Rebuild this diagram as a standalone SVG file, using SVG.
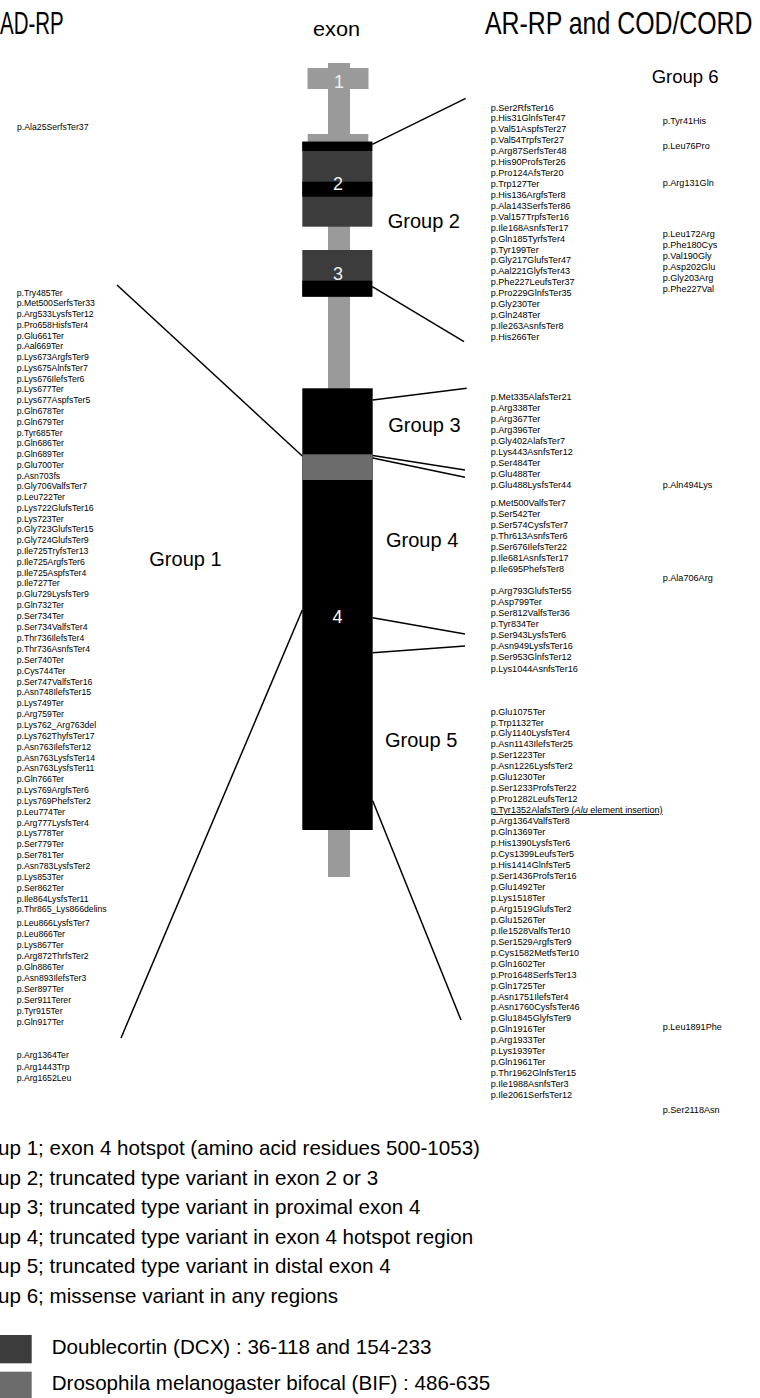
<svg xmlns="http://www.w3.org/2000/svg" width="760" height="1398" viewBox="0 0 760 1398">
<style>
text{font-family:"Liberation Sans",Arial,Helvetica,sans-serif;fill:#000}
.v{font-size:8.7px}
#ar-rp-group2 text,#ar-rp-group3 text,#ar-rp-group4 text,#ar-rp-group5 text,#group6-missense text{font-size:9.1px}
.g{font-size:20px}
.h{font-size:25px}
.n{font-size:18px;fill:#eeeeee}
.lg{font-size:20.6px}
.c{stroke:#000;stroke-width:1.5;fill:none}
.stem{fill:#9a9a9a}
.dcx{fill:#3c3c3c}
.blk{fill:#000}
.bif{fill:#6c6c6c}
</style>
<rect width="760" height="1398" fill="#fff"/>
<g id="headers">
<text class="h" transform="translate(0 33.5) scale(0.82 1.28)" x="0" y="0">AD-RP</text>
<text x="313" y="36" style="font-size:20px" textLength="47" lengthAdjust="spacingAndGlyphs">exon</text>
<text class="h" transform="translate(485 33.5) scale(0.995 1.28)" x="0" y="0">AR-RP and COD/CORD</text>
</g>
<g id="gene">
<rect class="stem" x="328" y="63" width="22" height="814"/>
<g id="exon1">
<rect class="stem" x="307.5" y="68" width="61" height="21"/>
<text class="n" x="339" y="87.5" text-anchor="middle">1</text>
</g>
<g id="exon2">
<rect class="stem" x="307.7" y="134" width="60.6" height="8"/>
<rect class="dcx" x="302.3" y="141.7" width="70" height="85"/>
<rect class="blk" x="302.3" y="141.7" width="70" height="9.3"/>
<rect class="blk" x="302.3" y="181.7" width="70" height="15"/>
<text class="n" x="338" y="189.5" text-anchor="middle">2</text>
</g>
<g id="exon3">
<rect class="dcx" x="302.3" y="250" width="70" height="46.7"/>
<rect class="blk" x="302.3" y="280.7" width="70" height="16"/>
<text class="n" x="338" y="279.5" text-anchor="middle">3</text>
</g>
<g id="exon4">
<rect class="blk" x="302.3" y="388.3" width="70.4" height="441.7"/>
<rect class="bif" x="302.3" y="454.3" width="70.4" height="25.7"/>
<text class="n" x="337.5" y="623" text-anchor="middle" style="fill:#fff">4</text>
</g>
</g>
<g id="connectors">
<line class="c" x1="372.3" y1="144.3" x2="465.7" y2="98.3"/>
<line class="c" x1="372.3" y1="286.7" x2="464" y2="341.7"/>
<line class="c" x1="372.7" y1="400" x2="466.7" y2="388.3"/>
<line class="c" x1="372.7" y1="455.5" x2="465" y2="470"/>
<line class="c" x1="372.7" y1="458" x2="465" y2="477.3"/>
<line class="c" x1="372.7" y1="617.7" x2="465" y2="634"/>
<line class="c" x1="372.7" y1="652.7" x2="465" y2="646"/>
<line class="c" x1="372.7" y1="800.7" x2="461" y2="1020"/>
<line class="c" x1="117" y1="285" x2="302.3" y2="456"/>
<line class="c" x1="302.3" y1="610" x2="121" y2="1038"/>
</g>
<g id="group-labels">
<text class="g" x="149.3" y="566">Group 1</text>
<text class="g" x="387.7" y="227.7">Group 2</text>
<text class="g" x="388.3" y="431.7">Group 3</text>
<text class="g" x="386" y="546.7">Group 4</text>
<text class="g" x="385" y="746.7">Group 5</text>
<text class="g" x="651.7" y="83.3" style="font-size:18.5px">Group 6</text>
</g>
<g id="ad-rp-variants">
<text class="v" x="17" y="130">p.Ala25SerfsTer37</text>
<text class="v" x="16.7" y="295.5">p.Try485Ter</text>
<text class="v" x="16.7" y="306.3">p.Met500SerfsTer33</text>
<text class="v" x="16.7" y="317.0">p.Arg533LysfsTer12</text>
<text class="v" x="16.7" y="327.8">p.Pro658HisfsTer4</text>
<text class="v" x="16.7" y="338.6">p.Glu661Ter</text>
<text class="v" x="16.7" y="349.4">p.Aal669Ter</text>
<text class="v" x="16.7" y="360.1">p.Lys673ArgfsTer9</text>
<text class="v" x="16.7" y="370.9">p.Lys675AlnfsTer7</text>
<text class="v" x="16.7" y="381.7">p.Lys676IlefsTer6</text>
<text class="v" x="16.7" y="392.4">p.Lys677Ter</text>
<text class="v" x="16.7" y="403.2">p.Lys677AspfsTer5</text>
<text class="v" x="16.7" y="414.0">p.Gln678Ter</text>
<text class="v" x="16.7" y="424.7">p.Gln679Ter</text>
<text class="v" x="16.7" y="435.5">p.Tyr685Ter</text>
<text class="v" x="16.7" y="446.3">p.Gln686Ter</text>
<text class="v" x="16.7" y="457.1">p.Gln689Ter</text>
<text class="v" x="16.7" y="467.8">p.Glu700Ter</text>
<text class="v" x="16.7" y="478.6">p.Asn703fs</text>
<text class="v" x="16.7" y="489.4">p.Gly706ValfsTer7</text>
<text class="v" x="16.7" y="500.1">p.Leu722Ter</text>
<text class="v" x="16.7" y="510.9">p.Lys722GlufsTer16</text>
<text class="v" x="16.7" y="521.7">p.Lys723Ter</text>
<text class="v" x="16.7" y="532.4">p.Gly723GlufsTer15</text>
<text class="v" x="16.7" y="543.2">p.Gly724GlufsTer9</text>
<text class="v" x="16.7" y="554.0">p.Ile725TryfsTer13</text>
<text class="v" x="16.7" y="564.8">p.Ile725ArgfsTer6</text>
<text class="v" x="16.7" y="575.5">p.Ile725AspfsTer4</text>
<text class="v" x="16.7" y="586.3">p.Ile727Ter</text>
<text class="v" x="16.7" y="597.1">p.Glu729LysfsTer9</text>
<text class="v" x="16.7" y="607.8">p.Gln732Ter</text>
<text class="v" x="16.7" y="619.4">p.Ser734Ter</text>
<text class="v" x="16.7" y="630.2">p.Ser734ValfsTer4</text>
<text class="v" x="16.7" y="641.1">p.Thr736IlefsTer4</text>
<text class="v" x="16.7" y="651.9">p.Thr736AsnfsTer4</text>
<text class="v" x="16.7" y="662.8">p.Ser740Ter</text>
<text class="v" x="16.7" y="673.6">p.Cys744Ter</text>
<text class="v" x="16.7" y="684.5">p.Ser747ValfsTer16</text>
<text class="v" x="16.7" y="695.3">p.Asn748IlefsTer15</text>
<text class="v" x="16.7" y="706.2">p.Lys749Ter</text>
<text class="v" x="16.7" y="717.0">p.Arg759Ter</text>
<text class="v" x="16.7" y="727.9">p.Lys762_Arg763del</text>
<text class="v" x="16.7" y="738.7">p.Lys762ThyfsTer17</text>
<text class="v" x="16.7" y="749.6">p.Asn763IlefsTer12</text>
<text class="v" x="16.7" y="760.5">p.Asn763LysfsTer14</text>
<text class="v" x="16.7" y="771.3">p.Asn763LysfsTer11</text>
<text class="v" x="16.7" y="782.2">p.Gln766Ter</text>
<text class="v" x="16.7" y="793.0">p.Lys769ArgfsTer6</text>
<text class="v" x="16.7" y="803.9">p.Lys769PhefsTer2</text>
<text class="v" x="16.7" y="814.7">p.Leu774Ter</text>
<text class="v" x="16.7" y="825.6">p.Arg777LysfsTer4</text>
<text class="v" x="16.7" y="836.4">p.Lys778Ter</text>
<text class="v" x="16.7" y="847.3">p.Ser779Ter</text>
<text class="v" x="16.7" y="858.1">p.Ser781Ter</text>
<text class="v" x="16.7" y="869.0">p.Asn783LysfsTer2</text>
<text class="v" x="16.7" y="879.9">p.Lys853Ter</text>
<text class="v" x="16.7" y="890.7">p.Ser862Ter</text>
<text class="v" x="16.7" y="901.6">p.Ile864LysfsTer11</text>
<text class="v" x="16.7" y="912.4">p.Thr865_Lys866delins</text>
<text class="v" x="16.7" y="925.5">p.Leu866LysfsTer7</text>
<text class="v" x="16.7" y="936.5">p.Leu866Ter</text>
<text class="v" x="16.7" y="947.5">p.Lys867Ter</text>
<text class="v" x="16.7" y="958.5">p.Arg872ThrfsTer2</text>
<text class="v" x="16.7" y="969.5">p.Gln886Ter</text>
<text class="v" x="16.7" y="980.5">p.Asn893IlefsTer3</text>
<text class="v" x="16.7" y="991.5">p.Ser897Ter</text>
<text class="v" x="16.7" y="1002.5">p.Ser911Terer</text>
<text class="v" x="16.7" y="1013.5">p.Tyr915Ter</text>
<text class="v" x="16.7" y="1024.5">p.Gln917Ter</text>
<text class="v" x="16.7" y="1058.2">p.Arg1364Ter</text>
<text class="v" x="16.7" y="1069.5">p.Arg1443Trp</text>
<text class="v" x="16.7" y="1080.8">p.Arg1652Leu</text>
</g>
<g id="ar-rp-group2">
<text class="v" x="490.7" y="110.5">p.Ser2RfsTer16</text>
<text class="v" x="490.7" y="121.4">p.His31GlnfsTer47</text>
<text class="v" x="490.7" y="132.3">p.Val51AspfsTer27</text>
<text class="v" x="490.7" y="143.3">p.Val54TrpfsTer27</text>
<text class="v" x="490.7" y="154.2">p.Arg87SerfsTer48</text>
<text class="v" x="490.7" y="165.1">p.His90ProfsTer26</text>
<text class="v" x="490.7" y="176.0">p.Pro124AfsTer20</text>
<text class="v" x="490.7" y="187.0">p.Trp127Ter</text>
<text class="v" x="490.7" y="197.9">p.His136ArgfsTer8</text>
<text class="v" x="490.7" y="208.8">p.Ala143SerfsTer86</text>
<text class="v" x="490.7" y="219.7">p.Val157TrpfsTer16</text>
<text class="v" x="490.7" y="230.7">p.Ile168AsnfsTer17</text>
<text class="v" x="490.7" y="241.6">p.Gln185TyrfsTer4</text>
<text class="v" x="490.7" y="252.5">p.Tyr199Ter</text>
<text class="v" x="490.7" y="263.4">p.Gly217GlufsTer47</text>
<text class="v" x="490.7" y="274.4">p.Aal221GlyfsTer43</text>
<text class="v" x="490.7" y="285.3">p.Phe227LeufsTer37</text>
<text class="v" x="490.7" y="296.2">p.Pro229GlnfsTer35</text>
<text class="v" x="490.7" y="307.1">p.Gly230Ter</text>
<text class="v" x="490.7" y="318.1">p.Gln248Ter</text>
<text class="v" x="490.7" y="329.0">p.Ile263AsnfsTer8</text>
<text class="v" x="490.7" y="339.9">p.His266Ter</text>
</g>
<g id="ar-rp-group3">
<text class="v" x="490.7" y="399.9">p.Met335AlafsTer21</text>
<text class="v" x="490.7" y="410.9">p.Arg338Ter</text>
<text class="v" x="490.7" y="421.9">p.Arg367Ter</text>
<text class="v" x="490.7" y="432.9">p.Arg396Ter</text>
<text class="v" x="490.7" y="443.9">p.Gly402AlafsTer7</text>
<text class="v" x="490.7" y="454.9">p.Lys443AsnfsTer12</text>
<text class="v" x="490.7" y="465.9">p.Ser484Ter</text>
<text class="v" x="490.7" y="476.9">p.Glu488Ter</text>
<text class="v" x="490.7" y="487.9">p.Glu488LysfsTer44</text>
</g>
<g id="ar-rp-group4">
<text class="v" x="490.7" y="505.9">p.Met500ValfsTer7</text>
<text class="v" x="490.7" y="517.0">p.Ser542Ter</text>
<text class="v" x="490.7" y="528.0">p.Ser574CysfsTer7</text>
<text class="v" x="490.7" y="539.1">p.Thr613AsnfsTer6</text>
<text class="v" x="490.7" y="550.1">p.Ser676IlefsTer22</text>
<text class="v" x="490.7" y="561.2">p.Ile681AsnfsTer17</text>
<text class="v" x="490.7" y="572.2">p.Ile695PhefsTer8</text>
<text class="v" x="490.7" y="594.2">p.Arg793GlufsTer55</text>
<text class="v" x="490.7" y="605.2">p.Asp799Ter</text>
<text class="v" x="490.7" y="616.3">p.Ser812ValfsTer36</text>
<text class="v" x="490.7" y="627.3">p.Tyr834Ter</text>
<text class="v" x="490.7" y="638.4">p.Ser943LysfsTer6</text>
<text class="v" x="490.7" y="649.4">p.Asn949LysfsTer16</text>
<text class="v" x="490.7" y="660.4">p.Ser953GlnfsTer12</text>
<text class="v" x="490.7" y="671.5">p.Lys1044AsnfsTer16</text>
</g>
<g id="ar-rp-group5">
<text class="v" x="490.7" y="714.5">p.Glu1075Ter</text>
<text class="v" x="490.7" y="725.5">p.Trp1132Ter</text>
<text class="v" x="490.7" y="736.4">p.Gly1140LysfsTer4</text>
<text class="v" x="490.7" y="747.4">p.Asn1143IlefsTer25</text>
<text class="v" x="490.7" y="758.3">p.Ser1223Ter</text>
<text class="v" x="490.7" y="769.3">p.Asn1226LysfsTer2</text>
<text class="v" x="490.7" y="780.3">p.Glu1230Ter</text>
<text class="v" x="490.7" y="791.2">p.Ser1233ProfsTer22</text>
<text class="v" x="490.7" y="802.2">p.Pro1282LeufsTer12</text>
<text class="v" x="490.7" y="813.1" text-decoration="underline">p.Tyr1352AlafsTer9 (<tspan font-style="italic">Alu</tspan> element insertion)</text>
<text class="v" x="490.7" y="824.1">p.Arg1364ValfsTer8</text>
<text class="v" x="490.7" y="835.1">p.Gln1369Ter</text>
<text class="v" x="490.7" y="846.0">p.His1390LysfsTer6</text>
<text class="v" x="490.7" y="857.0">p.Cys1399LeufsTer5</text>
<text class="v" x="490.7" y="867.9">p.His1414GlnfsTer5</text>
<text class="v" x="490.7" y="878.9">p.Ser1436ProfsTer16</text>
<text class="v" x="490.7" y="889.9">p.Glu1492Ter</text>
<text class="v" x="490.7" y="900.8">p.Lys1518Ter</text>
<text class="v" x="490.7" y="911.8">p.Arg1519GlufsTer2</text>
<text class="v" x="490.7" y="922.7">p.Glu1526Ter</text>
<text class="v" x="490.7" y="933.7">p.Ile1528ValfsTer10</text>
<text class="v" x="490.7" y="944.7">p.Ser1529ArgfsTer9</text>
<text class="v" x="490.7" y="955.6">p.Cys1582MetfsTer10</text>
<text class="v" x="490.7" y="966.6">p.Gln1602Ter</text>
<text class="v" x="490.7" y="977.5">p.Pro1648SerfsTer13</text>
<text class="v" x="490.7" y="988.5">p.Gln1725Ter</text>
<text class="v" x="490.7" y="999.5">p.Asn1751IlefsTer4</text>
<text class="v" x="490.7" y="1010.4">p.Asn1760CysfsTer46</text>
<text class="v" x="490.7" y="1021.4">p.Glu1845GlyfsTer9</text>
<text class="v" x="490.7" y="1032.3">p.Gln1916Ter</text>
<text class="v" x="490.7" y="1043.3">p.Arg1933Ter</text>
<text class="v" x="490.7" y="1054.3">p.Lys1939Ter</text>
<text class="v" x="490.7" y="1065.2">p.Gln1961Ter</text>
<text class="v" x="490.7" y="1076.2">p.Thr1962GlnfsTer15</text>
<text class="v" x="490.7" y="1087.1">p.Ile1988AsnfsTer3</text>
<text class="v" x="490.7" y="1098.1">p.Ile2061SerfsTer12</text>
</g>
<g id="group6-missense">
<text class="v" x="662.7" y="124.2">p.Tyr41His</text>
<text class="v" x="662.7" y="148.9">p.Leu76Pro</text>
<text class="v" x="662.7" y="185.5">p.Arg131Gln</text>
<text class="v" x="662.7" y="237.2">p.Leu172Arg</text>
<text class="v" x="662.7" y="248.2">p.Phe180Cys</text>
<text class="v" x="662.7" y="259.1">p.Val190Gly</text>
<text class="v" x="662.7" y="270.0">p.Asp202Glu</text>
<text class="v" x="662.7" y="281.0">p.Gly203Arg</text>
<text class="v" x="662.7" y="291.9">p.Phe227Val</text>
<text class="v" x="662.7" y="488.2">p.Aln494Lys</text>
<text class="v" x="662.7" y="580.5">p.Ala706Arg</text>
<text class="v" x="662.7" y="1029.9">p.Leu1891Phe</text>
<text class="v" x="662.7" y="1112.5">p.Ser2118Asn</text>
</g>
<g id="legend">
<text class="lg" x="-2" y="1155">up 1; exon 4 hotspot (amino acid residues 500-1053)</text>
<text class="lg" x="-2" y="1184.5">up 2; truncated type variant in exon 2 or 3</text>
<text class="lg" x="-2" y="1214">up 3; truncated type variant in proximal exon 4</text>
<text class="lg" x="-2" y="1243.5">up 4; truncated type variant in exon 4 hotspot region</text>
<text class="lg" x="-2" y="1273">up 5; truncated type variant in distal exon 4</text>
<text class="lg" x="-2" y="1302.5">up 6; missense variant in any regions</text>
<rect class="dcx" x="0" y="1335" width="31.7" height="28.3"/>
<text class="lg" x="51.7" y="1354">Doublecortin (DCX) : 36-118 and 154-233</text>
<rect class="bif" x="0" y="1371.7" width="31.7" height="26.3"/>
<text class="lg" x="51.7" y="1390">Drosophila melanogaster bifocal (BIF) : 486-635</text>
</g>
</svg>
